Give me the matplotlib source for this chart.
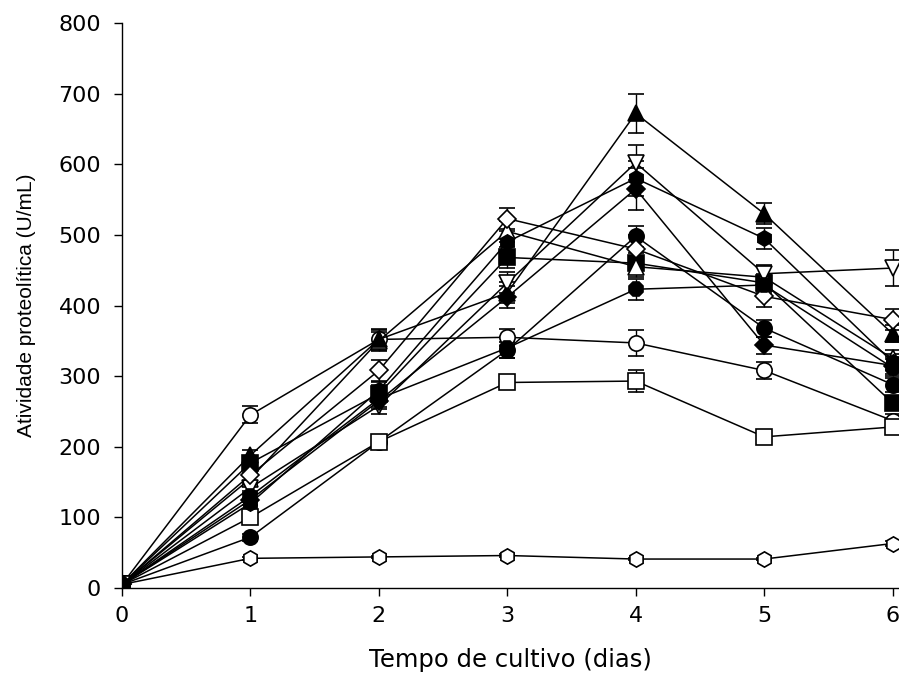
import matplotlib
matplotlib.use("Agg")
import matplotlib.pyplot as plt

plt.rcParams['font.family'] = ['Liberation Sans', 'DejaVu Sans']

days = [0, 1, 2, 3, 4, 5, 6]
x_ticks = [0, 1, 2, 3, 4, 5, 6]
y_ticks = [0, 100, 200, 300, 400, 500, 600, 700, 800]

open_circle = [5, 245, 352, 355, 347, 308, 237]
open_circle_err = [2, 12, 10, 12, 18, 12, 10]
filled_circle = [5, 72, 207, 337, 498, 368, 288]
filled_circle_err = [2, 5, 8, 12, 15, 12, 10]
open_square = [5, 100, 207, 291, 293, 214, 228]
open_square_err = [2, 5, 10, 8, 15, 5, 8]
filled_square = [5, 177, 275, 468, 460, 432, 262]
filled_square_err = [2, 8, 12, 15, 15, 12, 10]
open_tri_up = [5, 155, 350, 505, 455, 440, 325]
open_tri_up_err = [2, 8, 15, 15, 15, 15, 12]
filled_tri_up = [5, 188, 352, 418, 672, 530, 360]
filled_tri_up_err = [2, 8, 15, 15, 28, 15, 12]
open_tri_down = [5, 142, 258, 432, 602, 445, 453]
open_tri_down_err = [2, 8, 12, 15, 25, 12, 25]
open_diamond = [5, 160, 308, 523, 480, 413, 380]
open_diamond_err = [2, 8, 15, 15, 20, 15, 15]
filled_diamond = [5, 125, 265, 412, 565, 344, 315]
filled_diamond_err = [2, 8, 12, 15, 30, 12, 12]
open_hexagon = [5, 42, 44, 46, 41, 41, 63]
open_hexagon_err = [1, 2, 2, 2, 2, 2, 3]
filled_hexagon = [5, 120, 280, 490, 580, 495, 320]
filled_hexagon_err = [2, 8, 12, 15, 25, 15, 12]
filled_octagon = [5, 130, 268, 340, 423, 429, 312]
filled_octagon_err = [2, 8, 12, 15, 15, 12, 12]

series = [
    (open_circle, open_circle_err, 'o', 'white'),
    (filled_circle, filled_circle_err, 'o', 'black'),
    (open_square, open_square_err, 's', 'white'),
    (filled_square, filled_square_err, 's', 'black'),
    (open_tri_up, open_tri_up_err, '^', 'white'),
    (filled_tri_up, filled_tri_up_err, '^', 'black'),
    (open_tri_down, open_tri_down_err, 'v', 'white'),
    (open_diamond, open_diamond_err, 'D', 'white'),
    (filled_diamond, filled_diamond_err, 'D', 'black'),
    (open_hexagon, open_hexagon_err, 'h', 'white'),
    (filled_hexagon, filled_hexagon_err, 'h', 'black'),
    (filled_octagon, filled_octagon_err, '8', 'black'),
]

fig = plt.figure(figsize=(8.99, 6.82), dpi=100)
ax = fig.add_axes([122/899, 1-588/682, 1-122/899, (588-23)/682])

for vals, err, mk, fc in series:
    ms = 9 if mk == 'D' else 11
    ax.errorbar(days, vals, yerr=err, fmt='-', color='black', lw=1.1,
                marker=mk, markersize=ms, markerfacecolor=fc,
                markeredgecolor='black', markeredgewidth=1.2,
                capsize=6, elinewidth=1.0, capthick=1.0)

ax.set_xlim(0, 6.05)
ax.set_ylim(0, 800)
ax.set_xticks(x_ticks)
ax.set_yticks(y_ticks)
ax.spines['top'].set_visible(False)
ax.spines['right'].set_visible(False)
ax.spines['left'].set_linewidth(1.0)
ax.spines['bottom'].set_linewidth(1.0)
ax.tick_params(direction='out', length=6, width=1.0, labelsize=16)
ax.tick_params(axis='y', pad=9)
ax.tick_params(axis='x', pad=7)
for lab in ax.get_xticklabels() + ax.get_yticklabels():
    lab.set_family(['DejaVu Sans'])
ax.set_xlabel('Tempo de cultivo (dias)', fontsize=17.5, labelpad=16,
              family=['DejaVu Sans'])
ax.set_ylabel('Atividade proteolítica (U/mL)', fontsize=15, labelpad=16,
              family=['Liberation Sans', 'DejaVu Sans'])
for s in ax.spines.values():
    s.set_clip_on(False)

fig.savefig('out.png', dpi=100)
